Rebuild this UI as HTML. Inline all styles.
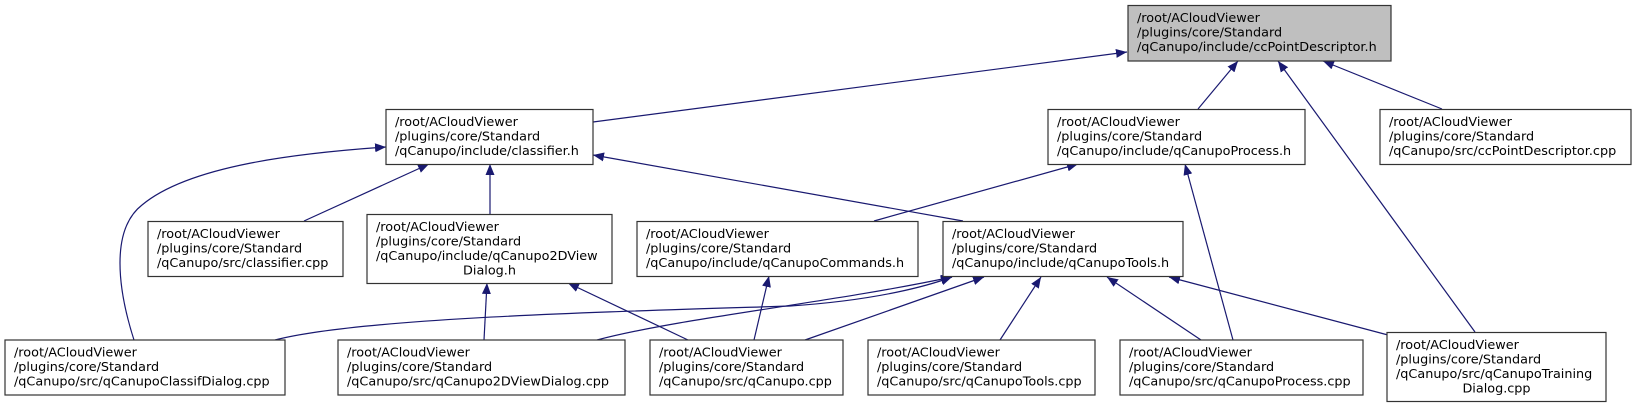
<!DOCTYPE html>
<html><head><meta charset="utf-8"><style>
html,body{margin:0;padding:0;background:#fff;}
svg{display:block;}
text{font-family:"DejaVu Sans","Liberation Sans",sans-serif;font-size:12.8px;fill:#000;}
.b{fill:#fff;stroke:#333;stroke-width:1.2;}
.e{fill:none;stroke:#191970;stroke-width:1.2;}
</style></head><body>
<svg width="1636" height="408" viewBox="0 0 1636 408" xmlns="http://www.w3.org/2000/svg">
<defs><marker id="a" markerUnits="userSpaceOnUse" markerWidth="12" markerHeight="9" refX="11" refY="4.5" orient="auto"><path d="M0,0 L11,4.5 L0,9 z" fill="#191970"/></marker></defs>

<!-- edges -->
<path class="e" marker-end="url(#a)" d="M593,122 L1127,52"/>
<path class="e" marker-end="url(#a)" d="M1198,109 L1238,61"/>
<path class="e" marker-end="url(#a)" d="M1475,332 L1278,61"/>
<path class="e" marker-end="url(#a)" d="M1442,109 L1323,61"/>
<path class="e" marker-end="url(#a)" d="M304,221 L429,164"/>
<path class="e" marker-end="url(#a)" d="M490,214 L490,164"/>
<path class="e" marker-end="url(#a)" d="M134,340 C118,290 110,230 142,205 C190,165 300,153 386,147"/>
<path class="e" marker-end="url(#a)" d="M963,221 L593,155"/>
<path class="e" marker-end="url(#a)" d="M874,221 L1078,164"/>
<path class="e" marker-end="url(#a)" d="M1233,340 L1185,164"/>
<path class="e" marker-end="url(#a)" d="M754,340 L769,276"/>
<path class="e" marker-end="url(#a)" d="M484,340 L487,283"/>
<path class="e" marker-end="url(#a)" d="M688,340 L568,283"/>
<path class="e" marker-end="url(#a)" d="M275,340 C360,318 600,312 790,306 C880,300 930,285 952,277"/>
<path class="e" marker-end="url(#a)" d="M597,340 C680,318 830,303 952,277"/>
<path class="e" marker-end="url(#a)" d="M805,340 L984,277"/>
<path class="e" marker-end="url(#a)" d="M1000,340 L1041,277"/>
<path class="e" marker-end="url(#a)" d="M1201,340 L1107,277"/>
<path class="e" marker-end="url(#a)" d="M1388,335 L1169,277"/>

<!-- root -->
<rect x="1128" y="5.5" width="263" height="55.5" fill="#bfbfbf" stroke="#333" stroke-width="1.2"/>
<text x="1137" y="22">/root/ACloudViewer</text><text x="1137" y="36.5">/plugins/core/Standard</text><text x="1137" y="51">/qCanupo/include/ccPointDescriptor.h</text>

<!-- row 2 -->
<rect class="b" x="386" y="109.5" width="207" height="55"/>
<text x="395" y="126">/root/ACloudViewer</text><text x="395" y="140.5">/plugins/core/Standard</text><text x="395" y="155">/qCanupo/include/classifier.h</text>

<rect class="b" x="1048" y="109.5" width="257" height="55"/>
<text x="1057" y="126">/root/ACloudViewer</text><text x="1057" y="140.5">/plugins/core/Standard</text><text x="1057" y="155">/qCanupo/include/qCanupoProcess.h</text>

<rect class="b" x="1380" y="109.5" width="251" height="55"/>
<text x="1389" y="126">/root/ACloudViewer</text><text x="1389" y="140.5">/plugins/core/Standard</text><text x="1389" y="155">/qCanupo/src/ccPointDescriptor.cpp</text>

<!-- row 3 -->
<rect class="b" x="148" y="221.5" width="195" height="55"/>
<text x="157" y="238">/root/ACloudViewer</text><text x="157" y="252.5">/plugins/core/Standard</text><text x="157" y="267">/qCanupo/src/classifier.cpp</text>

<rect class="b" x="367" y="214.5" width="245" height="69"/>
<text x="376" y="231">/root/ACloudViewer</text><text x="376" y="245.5">/plugins/core/Standard</text><text x="376" y="260">/qCanupo/include/qCanupo2DView</text><text x="489.5" y="274.5" text-anchor="middle">Dialog.h</text>

<rect class="b" x="637" y="221.5" width="281" height="55"/>
<text x="646" y="238">/root/ACloudViewer</text><text x="646" y="252.5">/plugins/core/Standard</text><text x="646" y="267">/qCanupo/include/qCanupoCommands.h</text>

<rect class="b" x="943" y="221.5" width="240" height="55"/>
<text x="952" y="238">/root/ACloudViewer</text><text x="952" y="252.5">/plugins/core/Standard</text><text x="952" y="267">/qCanupo/include/qCanupoTools.h</text>

<!-- row 4 -->
<rect class="b" x="5" y="340" width="280" height="55"/>
<text x="14" y="356.5">/root/ACloudViewer</text><text x="14" y="371">/plugins/core/Standard</text><text x="14" y="385.5">/qCanupo/src/qCanupoClassifDialog.cpp</text>

<rect class="b" x="338" y="340" width="287" height="55"/>
<text x="347" y="356.5">/root/ACloudViewer</text><text x="347" y="371">/plugins/core/Standard</text><text x="347" y="385.5">/qCanupo/src/qCanupo2DViewDialog.cpp</text>

<rect class="b" x="650" y="340" width="193" height="55"/>
<text x="659" y="356.5">/root/ACloudViewer</text><text x="659" y="371">/plugins/core/Standard</text><text x="659" y="385.5">/qCanupo/src/qCanupo.cpp</text>

<rect class="b" x="868" y="340" width="227" height="55"/>
<text x="877" y="356.5">/root/ACloudViewer</text><text x="877" y="371">/plugins/core/Standard</text><text x="877" y="385.5">/qCanupo/src/qCanupoTools.cpp</text>

<rect class="b" x="1120" y="340" width="243" height="55"/>
<text x="1129" y="356.5">/root/ACloudViewer</text><text x="1129" y="371">/plugins/core/Standard</text><text x="1129" y="385.5">/qCanupo/src/qCanupoProcess.cpp</text>

<rect class="b" x="1387" y="332.5" width="219" height="69"/>
<text x="1396" y="349">/root/ACloudViewer</text><text x="1396" y="363.5">/plugins/core/Standard</text><text x="1396" y="378">/qCanupo/src/qCanupoTraining</text><text x="1496.5" y="392.5" text-anchor="middle">Dialog.cpp</text>
</svg>
</body></html>
